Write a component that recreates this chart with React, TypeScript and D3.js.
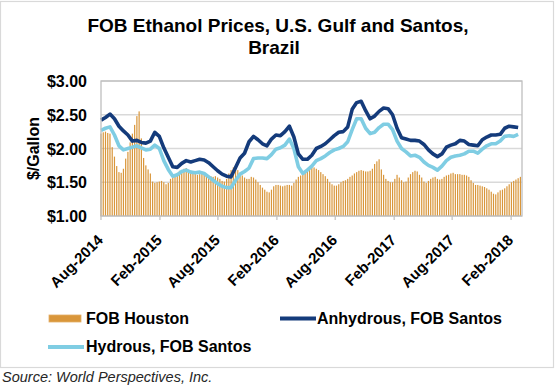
import React from "react";
import * as d3 from "d3";

// weekly FOB Houston price, $/gallon, first week of Aug-2014 onwards
const houston = [
  2.22, 2.24, 2.25, 2.23, 2.22, 2.02, 1.88, 1.74, 1.65, 1.64, 1.70, 1.85, 1.95, 2.09, 2.22, 2.35,
  2.48, 2.55, 2.15, 1.86, 1.75, 1.69, 1.63, 1.51, 1.49, 1.50, 1.51, 1.52, 1.50, 1.47, 1.49, 1.55,
  1.57, 1.60, 1.64, 1.67, 1.68, 1.70, 1.71, 1.68, 1.66, 1.65, 1.63, 1.61, 1.62, 1.64, 1.63, 1.61,
  1.60, 1.59, 1.58, 1.59, 1.57, 1.55, 1.52, 1.51, 1.55, 1.63, 1.68, 1.72, 1.73, 1.68, 1.63, 1.60,
  1.57, 1.55, 1.55, 1.58, 1.57, 1.54, 1.50, 1.46, 1.42, 1.39, 1.36, 1.35, 1.39, 1.44, 1.46, 1.46,
  1.45, 1.44, 1.45, 1.46, 1.46, 1.45, 1.49, 1.54, 1.58, 1.60, 1.62, 1.66, 1.70, 1.72, 1.73, 1.72,
  1.70, 1.68, 1.65, 1.62, 1.59, 1.55, 1.50, 1.47, 1.45, 1.45, 1.47, 1.50, 1.52, 1.53, 1.55, 1.58,
  1.60, 1.63, 1.65, 1.67, 1.68, 1.67, 1.66, 1.66, 1.67, 1.70, 1.77, 1.81, 1.84, 1.69, 1.61, 1.55,
  1.52, 1.50, 1.50, 1.55, 1.61, 1.57, 1.53, 1.50, 1.51, 1.57, 1.62, 1.65, 1.67, 1.66, 1.61, 1.57,
  1.51, 1.49, 1.52, 1.55, 1.57, 1.58, 1.55, 1.54, 1.55, 1.58, 1.60, 1.61, 1.63, 1.64, 1.62, 1.62,
  1.62, 1.61, 1.61, 1.60, 1.58, 1.53, 1.49, 1.46, 1.46, 1.45, 1.44, 1.43, 1.41, 1.39, 1.36, 1.33,
  1.32, 1.35, 1.38, 1.39, 1.41, 1.44, 1.47, 1.50, 1.52, 1.54, 1.56, 1.58,
];

// bi-weekly Santos prices
const anhydrous = [
  2.42, 2.46, 2.51, 2.44, 2.33, 2.26, 2.20, 2.11, 2.12, 2.09, 2.08, 2.11, 2.24, 2.18, 2.01, 1.87,
  1.73, 1.72, 1.78, 1.82, 1.80, 1.82, 1.84, 1.83, 1.79, 1.73, 1.67, 1.62, 1.59, 1.58, 1.72, 1.86,
  1.93, 2.10, 2.18, 2.13, 2.07, 2.04, 2.14, 2.20, 2.19, 2.25, 2.33, 2.17, 1.92, 1.84, 1.84, 1.90,
  2.00, 2.03, 2.07, 2.13, 2.19, 2.24, 2.25, 2.32, 2.58, 2.68, 2.70, 2.56, 2.44, 2.48, 2.55, 2.60,
  2.59, 2.50, 2.30, 2.16, 2.14, 2.12, 2.12, 2.11, 2.06, 1.98, 1.92, 1.88, 1.92, 2.02, 2.05, 2.07,
  2.12, 2.11, 2.06, 2.05, 2.04, 2.13, 2.17, 2.20, 2.20, 2.21, 2.30, 2.33, 2.32, 2.31,
];
const hydrous = [
  2.27, 2.30, 2.32, 2.20, 2.04, 1.98, 2.00, 2.02, 2.04, 2.01, 1.98, 1.99, 2.05, 2.00, 1.82, 1.69,
  1.59, 1.61, 1.66, 1.68, 1.65, 1.64, 1.65, 1.63, 1.58, 1.53, 1.48, 1.44, 1.42, 1.42, 1.53, 1.62,
  1.66, 1.71, 1.85, 1.86, 1.86, 1.85, 1.91, 1.99, 2.01, 2.05, 2.14, 2.00, 1.73, 1.63, 1.68, 1.74,
  1.82, 1.85, 1.89, 1.94, 1.98, 2.00, 2.03, 2.10, 2.28, 2.44, 2.44, 2.30, 2.22, 2.24, 2.31, 2.36,
  2.36, 2.28, 2.11, 2.00, 1.95, 1.89, 1.90, 1.87, 1.80, 1.75, 1.72, 1.68, 1.74, 1.82, 1.87, 1.89,
  1.90, 1.92, 1.96, 1.96, 1.93, 1.99, 2.04, 2.07, 2.07, 2.11, 2.18, 2.19, 2.18, 2.21,
];

const tickLabels = ["Aug-2014", "Feb-2015", "Aug-2015", "Feb-2016", "Aug-2016", "Feb-2017", "Aug-2017", "Feb-2018"];
const yTicks = [1, 1.5, 2, 2.5, 3];

const start = new Date(2014, 7, 1);
const end = new Date(2018, 2, 7);

const font = "Arial, 'Liberation Sans', sans-serif";
const barColor = "#D9963A";
const anhColor = "#143B7B";
const hydColor = "#7FCDE3";

export default function App() {
  const left = 101, right = 522, top = 81, bottom = 216;

  const x = d3.scaleTime().domain([start, end]).range([left, right]);
  const y = d3.scaleLinear().domain([1, 3]).range([bottom, top]);

  const weekly = houston.map((v, i) => ({ date: d3.timeDay.offset(start, 7 * i), v }));
  const anh = anhydrous.map((v, i) => ({ date: d3.timeDay.offset(start, 14 * i), v }));
  const hyd = hydrous.map((v, i) => ({ date: d3.timeDay.offset(start, 14 * i), v }));

  const line = d3.line<{ date: Date; v: number }>().x(d => x(d.date)).y(d => y(d.v));

  const parse = d3.timeParse("%b-%Y");
  const xTicks = tickLabels.map(l => ({ label: l, date: parse(l) as Date }));

  return (
    <svg width={557} height={388} style={{ position: "absolute", left: 0, top: 0, background: "white" }}
      fontFamily={font}>
      <rect x={0.5} y={1.5} width={553} height={366} fill="white" stroke="#D9D9D9" strokeWidth={1.2} />

      <text x={278} y={32} textAnchor="middle" fontSize={19} fontWeight="bold" fill="#000">
        FOB Ethanol Prices, U.S. Gulf and Santos,
      </text>
      <text x={274} y={54} textAnchor="middle" fontSize={19} fontWeight="bold" fill="#000">
        Brazil
      </text>

      {/* grid */}
      {yTicks.map(t => (
        <line key={t} x1={left} x2={right} y1={y(t)} y2={y(t)} stroke="#D9D9D9" strokeWidth={1.3} />
      ))}

      {/* bars */}
      <g fill={barColor}>
        {weekly.map((d, i) => (
          <rect key={i} x={x(d.date) - 0.6} width={1.2} y={y(d.v)} height={y(1) - y(d.v)} />
        ))}
      </g>

      <path d={line(hyd) || ""} fill="none" stroke={hydColor} strokeWidth={3.6} strokeLinejoin="round" />
      <path d={line(anh) || ""} fill="none" stroke={anhColor} strokeWidth={3.6} strokeLinejoin="round" />

      {/* plot frame */}
      <rect x={left} y={top} width={right - left} height={bottom - top} fill="none" stroke="#BFBFBF" strokeWidth={1.3} />

      {/* y axis labels */}
      {yTicks.map(t => (
        <text key={t} x={87} y={y(t) + 6} textAnchor="end" fontSize={16} fontWeight="bold" fill="#000">
          {d3.format("$.2f")(t)}
        </text>
      ))}
      <text transform={`translate(38.5,148.5) rotate(-90)`} textAnchor="middle" fontSize={16} fontWeight="bold" fill="#000">
        $/Gallon
      </text>

      {/* x ticks */}
      {xTicks.map(t => (
        <g key={t.label}>
          <line x1={x(t.date)} x2={x(t.date)} y1={bottom} y2={bottom + 4} stroke="#BFBFBF" strokeWidth={1.2} />
          <text transform={`translate(${x(t.date) + 3},${bottom + 25}) rotate(-45)`} textAnchor="end"
            fontSize={15} fontWeight="bold" fill="#000">
            {t.label}
          </text>
        </g>
      ))}

      {/* legend */}
      <rect x={49} y={315} width={32} height={7} fill={barColor} stroke="#E3AE68" strokeWidth={0.8} />
      <text x={86} y={324} fontSize={16} fontWeight="bold" fill="#000">FOB Houston</text>
      <line x1={280} x2={316} y1={318.5} y2={318.5} stroke={anhColor} strokeWidth={4} />
      <text x={317} y={324} fontSize={16} fontWeight="bold" fill="#000">Anhydrous, FOB Santos</text>
      <line x1={48} x2={84} y1={347} y2={347} stroke={hydColor} strokeWidth={4} />
      <text x={86} y={352} fontSize={16} fontWeight="bold" fill="#000">Hydrous, FOB Santos</text>

      <text x={2} y={382} fontSize={14.5} fontStyle="italic" fill="#262626">
        Source: World Perspectives, Inc.
      </text>
    </svg>
  );
}
